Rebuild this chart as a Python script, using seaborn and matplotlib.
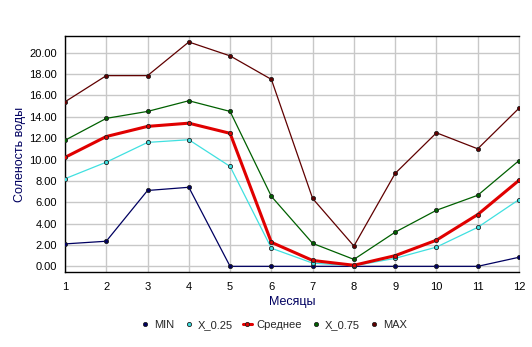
import matplotlib
matplotlib.use("Agg")
import matplotlib.pyplot as plt
import seaborn as sns
import pandas as pd
import numpy as np
from matplotlib.ticker import MultipleLocator, FormatStrFormatter
from matplotlib.lines import Line2D

months = list(range(1, 13))
series_names = ["MIN", "X_0.25", "Среднее", "X_0.75", "MAX"]
v_min = [2.1, 2.35, 7.1, 7.4, 0.0, 0.0, 0.0, 0.0, 0.0, 0.0, 0.0, 0.85]
v_q25 = [8.2, 9.75, 11.6, 11.85, 9.35, 1.7, 0.3, 0.05, 0.75, 1.8, 3.65, 6.25]
v_mean = [10.2, 12.15, 13.1, 13.4, 12.45, 2.25, 0.55, 0.1, 1.0, 2.45, 4.85, 8.05]
v_q75 = [11.8, 13.85, 14.5, 15.5, 14.5, 6.55, 2.15, 0.65, 3.2, 5.25, 6.65, 9.9]
v_max = [15.4, 17.85, 17.85, 21.0, 19.7, 17.5, 6.35, 1.9, 8.7, 12.5, 11.0, 14.8]

colors = ["#000060", "#40E0E0", "#E00000", "#006000", "#600000"]
widths = [0.9, 0.9, 2.2, 0.9, 0.9]

sns.set_style("white")
plt.rcParams['font.family'] = ['Liberation Sans', 'DejaVu Sans']

rows = []
for name, vals in zip(series_names, [v_min, v_q25, v_mean, v_q75, v_max]):
    for m, v in zip(months, vals):
        rows.append({"Месяцы": m, "value": v, "series": name})
df = pd.DataFrame(rows)

fig = plt.figure(figsize=(5.32, 3.47), dpi=100)
ax = fig.add_axes([65/532, 1-272/347, (519-65)/532, (272-36)/347])

for name, col, lw in zip(series_names, colors, widths):
    sub = df[df["series"] == name]
    sns.lineplot(data=sub, x="Месяцы", y="value", ax=ax, color=col, linewidth=lw,
                 marker="o", markersize=3.0, markerfacecolor=col,
                 markeredgecolor="#202020", markeredgewidth=0.6, legend=False, zorder=3)

ax.set_xlim(1, 12)
ax.set_ylim(-0.53, 21.56)
ax.xaxis.set_major_locator(MultipleLocator(1))
ax.xaxis.set_minor_locator(MultipleLocator(0.1))
ax.yaxis.set_major_locator(MultipleLocator(2))
ax.yaxis.set_minor_locator(MultipleLocator(0.5))
ax.yaxis.set_major_formatter(FormatStrFormatter("%.2f"))
ax.grid(True, which="major", color="#C8C8C8", linewidth=1.0)
ax.set_axisbelow(True)
ax.tick_params(axis="both", which="major", direction="out", length=4, width=1, labelsize=8, colors="black", pad=2)
ax.tick_params(axis="both", which="minor", direction="out", length=2, width=0.7, colors="black")
ax.tick_params(axis="x", pad=3)
for s in ["left", "bottom", "top"]:
    ax.spines[s].set_color("black")
    ax.spines[s].set_linewidth(1.0)
ax.spines["right"].set_color("#C8C8C8")

ax.set_xlabel("Месяцы", color="#000060", fontsize=9, labelpad=3)
ax.set_ylabel("Соленость воды", color="#000060", fontsize=9, labelpad=2)

handles = [Line2D([0], [0], color=c, linewidth=(lw if lw > 1 else 0), marker="o", markersize=3.0,
                  markerfacecolor=c, markeredgecolor="#202020", markeredgewidth=0.6)
           for c, lw in zip(colors, widths)]
fig.legend(handles, series_names, loc="center", bbox_to_anchor=(0.515, 1-325/347), ncol=5,
           frameon=False, fontsize=8, handlelength=0.8, handletextpad=0.4, columnspacing=0.9)

fig.savefig("out.png", dpi=100)
